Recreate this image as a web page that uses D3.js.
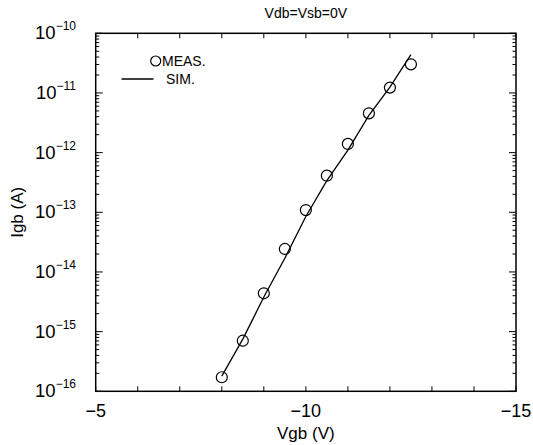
<!DOCTYPE html>
<html>
<head>
<meta charset="utf-8">
<script src="https://cdn.jsdelivr.net/npm/d3@7"></script>
<style>
  body { margin: 0; background: #fff; }
  text { font-family: "Liberation Sans", Arial, sans-serif; fill: #000; }
</style>
</head>
<body>
<svg width="533" height="445"></svg>
<script>
// measured gate current (circles)
const vgbMeas = [-8, -8.5, -9, -9.5, -10, -10.5, -11, -11.5, -12, -12.5];
const igbMeas = [1.72e-16, 7.05e-16, 4.39e-15, 2.43e-14, 1.09e-13, 4.11e-13, 1.40e-12, 4.56e-12, 1.23e-11, 3.02e-11];
// simulated curve (line)
const vgbSim = [-8, -8.5, -9, -9.5, -10, -10.5, -11, -11.5, -12, -12.5];
const igbSim = [1.8e-16, 7.5e-16, 3.8e-15, 1.7e-14, 8.5e-14, 3.4e-13, 1.1e-12, 4.2e-12, 1.25e-11, 4.4e-11];

const xTicks = [-5, -10, -15];
const yDecades = [-16, -15, -14, -13, -12, -11, -10];

const svg = d3.select("svg");
const pl = 95.7, pr = 516, pt = 33.3, pb = 391.3;

const x = d3.scaleLinear().domain([-5, -15]).range([pl, pr]);
const y = d3.scaleLog().domain([1e-16, 1e-10]).range([pb, pt]);

// ticks, all pointing inward
const g = svg.append("g").attr("stroke", "#000").attr("stroke-width", 1);
const xMinor = d3.range(-5, -15.5, -1);
xMinor.forEach(v => {
  g.append("line").attr("x1", x(v)).attr("x2", x(v)).attr("y1", pb).attr("y2", pb - 5);
  g.append("line").attr("x1", x(v)).attr("x2", x(v)).attr("y1", pt).attr("y2", pt + 5);
});
yDecades.forEach(e => {
  for (let m = 1; m <= 9; m++) {
    const v = m * Math.pow(10, e);
    if (v > 1e-10 * 1.0001) continue;
    const len = m === 1 ? 7 : 3.5;
    g.append("line").attr("x1", pl).attr("x2", pl + len).attr("y1", y(v)).attr("y2", y(v));
    g.append("line").attr("x1", pr).attr("x2", pr - len).attr("y1", y(v)).attr("y2", y(v));
  }
});

// frame
svg.append("rect")
  .attr("x", pl).attr("y", pt)
  .attr("width", pr - pl).attr("height", pb - pt)
  .attr("fill", "none").attr("stroke", "#000").attr("stroke-width", 1.5);

// tick labels
svg.selectAll(".xt").data(xTicks).join("text")
  .attr("x", d => x(d)).attr("y", pb + 26)
  .attr("text-anchor", "middle").attr("font-size", 18)
  .text(d => "\u2212" + Math.abs(d));

yDecades.forEach(e => {
  const t = svg.append("text")
    .attr("x", 76).attr("y", y(Math.pow(10, e)) + 6)
    .attr("text-anchor", "end").attr("font-size", 18.5);
  t.append("tspan").text("10");
  t.append("tspan").attr("dy", -9).attr("font-size", 12).text("\u2212" + Math.abs(e));
});

// axis titles
svg.append("text").attr("x", (pl + pr) / 2).attr("y", 439)
  .attr("text-anchor", "middle").attr("font-size", 17).text("Vgb (V)");
svg.append("text")
  .attr("transform", `translate(23,${(pt + pb) / 2}) rotate(-90)`)
  .attr("text-anchor", "middle").attr("font-size", 17).text("Igb (A)");
svg.append("text").attr("x", (pl + pr) / 2).attr("y", 18)
  .attr("text-anchor", "middle").attr("font-size", 14).text("Vdb=Vsb=0V");

// simulated line
const sim = vgbSim.map((v, i) => [v, igbSim[i]]);
svg.append("path")
  .datum(sim)
  .attr("fill", "none").attr("stroke", "#000").attr("stroke-width", 1.3)
  .attr("d", d3.line().x(d => x(d[0])).y(d => y(d[1])));

// measured circles
svg.selectAll(".meas").data(vgbMeas.map((v, i) => [v, igbMeas[i]])).join("circle")
  .attr("cx", d => x(d[0])).attr("cy", d => y(d[1])).attr("r", 5.5)
  .attr("fill", "none").attr("stroke", "#000").attr("stroke-width", 1.2);

// legend
svg.append("circle").attr("cx", 155.7).attr("cy", 61).attr("r", 5)
  .attr("fill", "none").attr("stroke", "#000").attr("stroke-width", 1.2);
svg.append("text").attr("x", 162).attr("y", 66).attr("font-size", 14).text("MEAS.");
svg.append("line").attr("x1", 121.5).attr("x2", 153.5).attr("y1", 79).attr("y2", 79)
  .attr("stroke", "#000").attr("stroke-width", 1.3);
svg.append("text").attr("x", 166).attr("y", 84).attr("font-size", 14).text("SIM.");
</script>
</body>
</html>
